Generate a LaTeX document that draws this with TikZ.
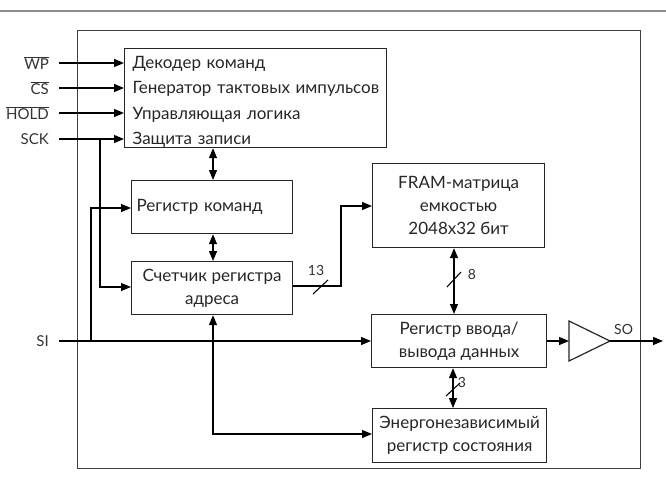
\documentclass[tikz,border=0pt]{standalone}
\usepackage{fontspec}
\setmainfont{Lato}
\usetikzlibrary{arrows.meta}
\begin{document}
\begin{tikzpicture}[x=1pt,y=-1pt,
  box/.style={draw=black!85, line width=1.2pt, anchor=north west, inner sep=0pt},
  txt/.style={font=\fontsize{17}{23}\selectfont, align=center, text=black!85},
  arr/.style={line width=1.2pt, -{Triangle[length=10pt,width=8pt]}},
  darr/.style={line width=1.2pt, {Triangle[length=10pt,width=8pt]}-{Triangle[length=10pt,width=8pt]}},
  lab/.style={anchor=east, inner sep=0pt, font=\fontsize{15}{17}\selectfont, text=black!80},
  num/.style={inner sep=0pt, font=\fontsize{14}{16}\selectfont, text=black!80},
  tick/.style={line width=1.1pt}]
\useasboundingbox (0,0) rectangle (666,484);
\draw[line width=2pt, black!45] (0,11) -- (666,11);
\node[draw=black!75, line width=1.4pt, anchor=north west, inner sep=0pt,
      minimum width=563pt, minimum height=438pt] (chip) at (77,30) {};
% blocks
\node[box, minimum width=262pt, minimum height=99pt, text width=246pt, inner xsep=8pt,
      align=left, text=black!85, font=\fontsize{17}{25.3}\selectfont] (ctrl) at (124,48)
  {\mbox{\rule{0pt}{20pt}Декодер команд}\\\mbox{Генератор тактовых импульсов}\\\mbox{Управляющая логика}\\\mbox{Защита записи}};
\node[box, minimum width=161pt, minimum height=53pt, text width=151pt, inner xsep=5pt,
      align=left, text=black!85, font=\fontsize{17}{23}\selectfont] (cmd) at (131,180) {Регистр команд};
\node[box, txt, minimum width=161pt, minimum height=53pt] (cnt) at (131,261)
  {Счетчик регистра\\адреса};
\node[box, txt, minimum width=172pt, minimum height=84pt] (fram) at (372,163)
  {FRAM-матрица\\емкостью\\2048x32 бит};
\node[box, txt, minimum width=175pt, minimum height=53pt] (io) at (371,314)
  {Регистр ввода/\\вывода данных};
\node[box, txt, minimum width=174pt, minimum height=54pt] (nv) at (372,408)
  {Энергонезависимый\\регистр состояния};
% buffer
\coordinate (bufin) at (569,341);
\coordinate (bufout) at (610,341);
\draw[line width=1.2pt, black!85] (569,321) -- (bufout) -- (569,361) -- cycle;
% input labels
\node[lab] (wp) at (49,63) {$\overline{\mbox{WP}}$};
\node[lab] (cs) at (49,88) {$\overline{\mbox{CS}}$};
\node[lab] (hold) at (49,113) {$\overline{\mbox{HOLD}}$};
\node[lab] (sck) at (49,139) {SCK};
\node[lab] (si) at (49,341) {SI};
\node[num, anchor=south west] (so) at (614,335) {SO};
% input arrows
\draw[arr] ([xshift=10pt]wp.east) -- (ctrl.west |- wp.east);
\draw[arr] ([xshift=10pt]cs.east) -- (ctrl.west |- cs.east);
\draw[arr] ([xshift=10pt]hold.east) -- (ctrl.west |- hold.east);
\draw[arr] ([xshift=10pt]sck.east) -- (ctrl.west |- sck.east);
\draw[arr] (100,139) -- (100,287) -- (cnt.west |- 0,287);
\draw[arr] ([xshift=10pt]si.east) -- (io.west |- si.east);
\draw[arr] (91,341) -- (91,208) -- (cmd.west |- 0,208);
% internal links
\draw[darr] (ctrl.south -| 213,0) -- (cmd.north -| 213,0);
\draw[darr] (cmd.south -| 213,0) -- (cnt.north -| 213,0);
\draw[darr] (cnt.south -| 213,0) -- (213,434) -- (nv.west |- 0,434);
\draw[arr] (cnt.east |- 0,286) -- (341,286) -- (341,206) -- (fram.west |- 0,206);
\draw[tick] (313,294) -- (328,280);
\node[num] (n13) at (316,270) {13};
\draw[darr] (fram.south -| 454,0) -- (io.north -| 454,0);
\draw[tick] (447,287) -- (461,272);
\node[num] (n8) at (472,274) {8};
\draw[darr] (io.south -| 453,0) -- (nv.north -| 453,0);
\draw[tick] (446,396) -- (460,383);
\node[num] (n3) at (462,382) {3};
% output
\draw[arr] (io.east |- bufin) -- (bufin);
\draw[arr] (bufout) -- (663,341);
\end{tikzpicture}
\end{document}
